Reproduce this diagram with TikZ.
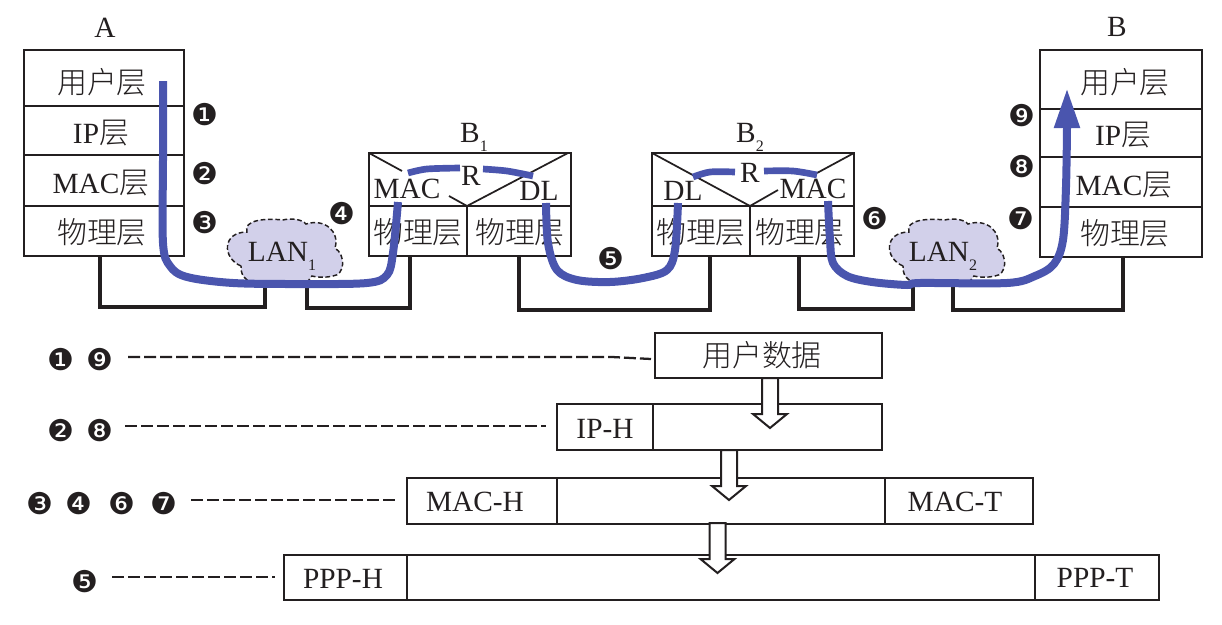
\documentclass[tikz,border=0pt]{standalone}
\usepackage{fontspec}
\setmainfont{Liberation Serif}
\newfontfamily\cjk[Scale=1.02]{Noto Sans CJK SC Light}
\newfontfamily\badgefont{DejaVu Sans}
\usetikzlibrary{fit,arrows.meta}
\definecolor{pathblue}{HTML}{4A55AE}
\definecolor{lanfill}{HTML}{D2D0EA}
\definecolor{ink}{HTML}{231F20}
\newcommand{\sbs}[1]{\raisebox{-0.32em}{\fontsize{12}{12}\selectfont #1}}
\tikzset{
  cell/.style={draw=ink,line width=1.7pt,inner sep=0pt,outer sep=0pt,rectangle},
  txt/.style={font=\fontsize{22}{26}\selectfont,text=ink,inner sep=0pt,anchor=base},
  badge/.style={font=\badgefont\fontsize{22.5}{26}\selectfont,text=ink,inner sep=0pt},
  divider/.style={draw=ink,line width=1.3pt},
  link/.style={draw=ink,line width=2.3pt,line join=miter},
  route/.style={draw=pathblue,line width=6pt,line cap=butt,line join=round},
  hop/.style={draw=pathblue,line width=5pt,line cap=butt},
  dashline/.style={draw=ink,line width=1.7pt,dash pattern=on 9pt off 3pt},
  lancloud/.pic={
    \draw[fill=lanfill,draw=ink,line width=1.1pt,dash pattern=on 3.5pt off 2pt]
      (241,266) .. controls (222,258) and (222,232) .. (247,232)
      .. controls (243,220) and (265,218) .. (283,220)
      .. controls (290,218) and (302,219) .. (306,224)
      .. controls (325,218) and (340,232) .. (335,248)
      .. controls (346,255) and (345,275) .. (333,276)
      .. controls (325,278) and (315,277) .. (312,276)
      -- (305,285) -- (262,285)
      .. controls (250,284) and (240,278) .. (241,266) -- cycle;
  },
  hollowdown/.pic={
    \draw[draw=ink,fill=white,line width=1.5pt,line join=miter]
      (-8,0) -- (8,0) -- (8,36) -- (17,36) -- (0,50) -- (-17,36) -- (-8,36) -- cycle;
  }
}
\begin{document}
\begin{tikzpicture}[x=0.75pt,y=-0.75pt]
\path[use as bounding box] (0,0) rectangle (1222,625);

% LAN clouds
\pic at (0,0) {lancloud};
\pic at (662,0) {lancloud};

% Host A protocol stack
\node[cell,fit={(24,50)(184,106)}] (Auser) {};
\node[cell,fit={(24,106)(184,155)}] (Aip) {};
\node[cell,fit={(24,155)(184,206)}] (Amac) {};
\node[cell,fit={(24,206)(184,256)}] (Aphy) {};
\node[txt] (Atitle) at (105,37) {A};
\node[txt] (Auserl) at (102,93) {\cjk 用户层};
\node[txt] (Aipl) at (101,143) {IP\cjk 层};
\node[txt] (Amacl) at (101,193) {MAC\cjk 层};
\node[txt] (Aphyl) at (102,243) {\cjk 物理层};

% Host B protocol stack
\node[cell,fit={(1040,50)(1202,109)}] (Buser) {};
\node[cell,fit={(1040,109)(1202,157)}] (Bip) {};
\node[cell,fit={(1040,157)(1202,207)}] (Bmac) {};
\node[cell,fit={(1040,207)(1202,257)}] (Bphy) {};
\node[txt] (Btitle) at (1117,36) {B};
\node[txt] (Buserl) at (1125,93) {\cjk 用户层};
\node[txt] (Bipl) at (1123,145) {IP\cjk 层};
\node[txt] (Bmacl) at (1124,195) {MAC\cjk 层};
\node[txt] (Bphyl) at (1125,244) {\cjk 物理层};

% Router B1
\node[cell,fit={(369,153)(571,206)}] (Rup) {};
\node[cell,fit={(369,206)(467,256)}] (Rpl) {};
\node[cell,fit={(467,206)(571,256)}] (Rpr) {};
\coordinate (Rfoot) at (467,206);
\coordinate (Rda) at (402,171);
\coordinate (Rdb) at (449,196);
\draw[divider] (Rup.north west) -- (Rda);
\draw[divider] (Rdb) -- (Rfoot) -- (568,153);
\node[txt] (Rtitle) at (474,142) {B\sbs{1}};
\node[txt] (Rmac) at (407,198) {MAC};
\node[txt] (Rdl) at (539,200) {DL};
\node[txt] (Rr) at (471,185) {R};
\node[txt] (Rphyl) at (418,243) {\cjk 物理层};
\node[txt] (Rphyr) at (520,243) {\cjk 物理层};

% Router B2
\node[cell,fit={(652,153)(854,206)}] (Sup) {};
\node[cell,fit={(652,206)(750,256)}] (Spl) {};
\node[cell,fit={(750,206)(854,256)}] (Spr) {};
\coordinate (Sfoot) at (750,206);
\coordinate (Sda) at (778,190);
\coordinate (Sdb) at (817,173);
\draw[divider] (Sup.north west) -- (Sfoot) -- (Sda);
\draw[divider] (Sdb) -- (Sup.north east);
\node[txt] (Stitle) at (750,142) {B\sbs{2}};
\node[txt] (Sdl) at (683,200) {DL};
\node[txt] (Smac) at (813,198) {MAC};
\node[txt] (Sr) at (750,182) {R};
\node[txt] (Sphyl) at (701,243) {\cjk 物理层};
\node[txt] (Sphyr) at (800,243) {\cjk 物理层};

% Cable attachment points
\coordinate (Aport) at (100,256);
\coordinate (Lwest) at (265,284);
\coordinate (Least) at (307,284);
\coordinate (Rportl) at (410,256);
\coordinate (Rportr) at (519,256);
\coordinate (Sportl) at (710,256);
\coordinate (Sportr) at (799,256);
\coordinate (Mwest) at (913,284);
\coordinate (Meast) at (953,284);
\coordinate (Bport) at (1123,257);

% Cables
\draw[link] (Aport) |- (Lwest |- 0,307) -- (Lwest);
\draw[link] (Least) |- (Rportl |- 0,308) -- (Rportl);
\draw[link] (Rportr) |- (Sportl |- 0,310) -- (Sportl);
\draw[link] (Sportr) |- (Mwest |- 0,309) -- (Mwest);
\draw[link] (Meast) |- (Bport |- 0,310) -- (Bport);

% LAN labels
\node[txt] (Llab) at (282,261) {LAN\sbs{1}};
\node[txt] (Mlab) at (943,261) {LAN\sbs{2}};

% Route taken by the data
\draw[route] plot[smooth,tension=0.55] coordinates {(163,81) (163,160) (163,243) (170,266) (187,277) (233,283) (300,284) (367,283) (387,275) (393,253) (398,202)};
\draw[hop] plot[smooth,tension=0.5] coordinates {(408,173) (427,169) (460,168)};
\draw[hop] plot[smooth,tension=0.5] coordinates {(483,169) (507,171) (533,176)};
\draw[route] plot[smooth,tension=0.55] coordinates {(546,203) (548,243) (557,270) (577,280) (610,282) (643,278) (667,270) (675,250) (678,203)};
\draw[hop] plot[smooth,tension=0.5] coordinates {(693,177) (710,172) (735,172)};
\draw[hop] plot[smooth,tension=0.5] coordinates {(764,171) (793,171) (817,175)};
\draw[route,-{Triangle[length=30pt,width=18pt]}] plot[smooth,tension=0.55] coordinates {(828,201) (830,240) (833,263) (847,276) (872,282) (907,285) (920,283) (1007,283) (1035,276) (1054,264) (1063,240) (1066,187) (1067,128)} -- (1067,88);

% Step numbers along the route
\node[badge] (u1) at (205,115) {❶};
\node[badge] (u2) at (205,174) {❷};
\node[badge] (u3) at (205,223) {❸};
\node[badge] (u4) at (342,214) {❹};
\node[badge] (u5) at (611,259) {❺};
\node[badge] (u6) at (875,219) {❻};
\node[badge] (u7) at (1021,219) {❼};
\node[badge] (u8) at (1022,167) {❽};
\node[badge] (u9) at (1022,116) {❾};

% Encapsulation rows
\node[cell,fit={(655,333)(882,378)}] (rowUser) {};
\node[txt] (rowUserl) at (762,366) {\cjk 用户数据};

\node[cell,fit={(557,404)(653,450)}] (ipH) {};
\node[cell,fit={(653,404)(882,450)}] (ipD) {};
\node[txt] (ipHl) at (605,438) {IP-H};

\node[cell,fit={(407,478)(557,524)}] (macH) {};
\node[cell,fit={(557,478)(885,524)}] (macD) {};
\node[cell,fit={(885,478)(1033,524)}] (macT) {};
\node[txt] (macHl) at (475,511) {MAC-H};
\node[txt] (macTl) at (955,511) {MAC-T};

\node[cell,fit={(284,555)(407,600)}] (pppH) {};
\node[cell,fit={(407,555)(1035,600)}] (pppD) {};
\node[cell,fit={(1035,555)(1159,600)}] (pppT) {};
\node[txt] (pppHl) at (343,588) {PPP-H};
\node[txt] (pppTl) at (1095,587) {PPP-T};

% Hollow arrows between rows
\pic at (770,378) {hollowdown};
\pic at (729,450) {hollowdown};
\pic at (717.5,523) {hollowdown};

% Step numbers for each row
\node[badge] (a1) at (60.5,360) {❶};
\node[badge] (a9) at (100,360) {❾};
\node[badge] (b2) at (60.5,431) {❷};
\node[badge] (b8) at (100,431) {❽};
\node[badge] (c3) at (40,504) {❸};
\node[badge] (c4) at (79,504) {❹};
\node[badge] (c6) at (122,504) {❻};
\node[badge] (c7) at (164,504) {❼};
\node[badge] (d5) at (85,582) {❺};

% Dashed leaders from the numbers to the rows
\coordinate (ds1) at (128,357);
\coordinate (dm1) at (612,357);
\coordinate (de1) at (651,359);
\coordinate (ds2) at (125,426);
\coordinate (de2) at (546,426);
\coordinate (ds3) at (191,500);
\coordinate (de3) at (398,500);
\coordinate (ds4) at (112,577);
\coordinate (de4) at (275,577);
\draw[dashline] (ds1) -- (dm1) -- (de1);
\draw[dashline] (ds2) -- (de2);
\draw[dashline] (ds3) -- (de3);
\draw[dashline] (ds4) -- (de4);
\end{tikzpicture}
\end{document}
